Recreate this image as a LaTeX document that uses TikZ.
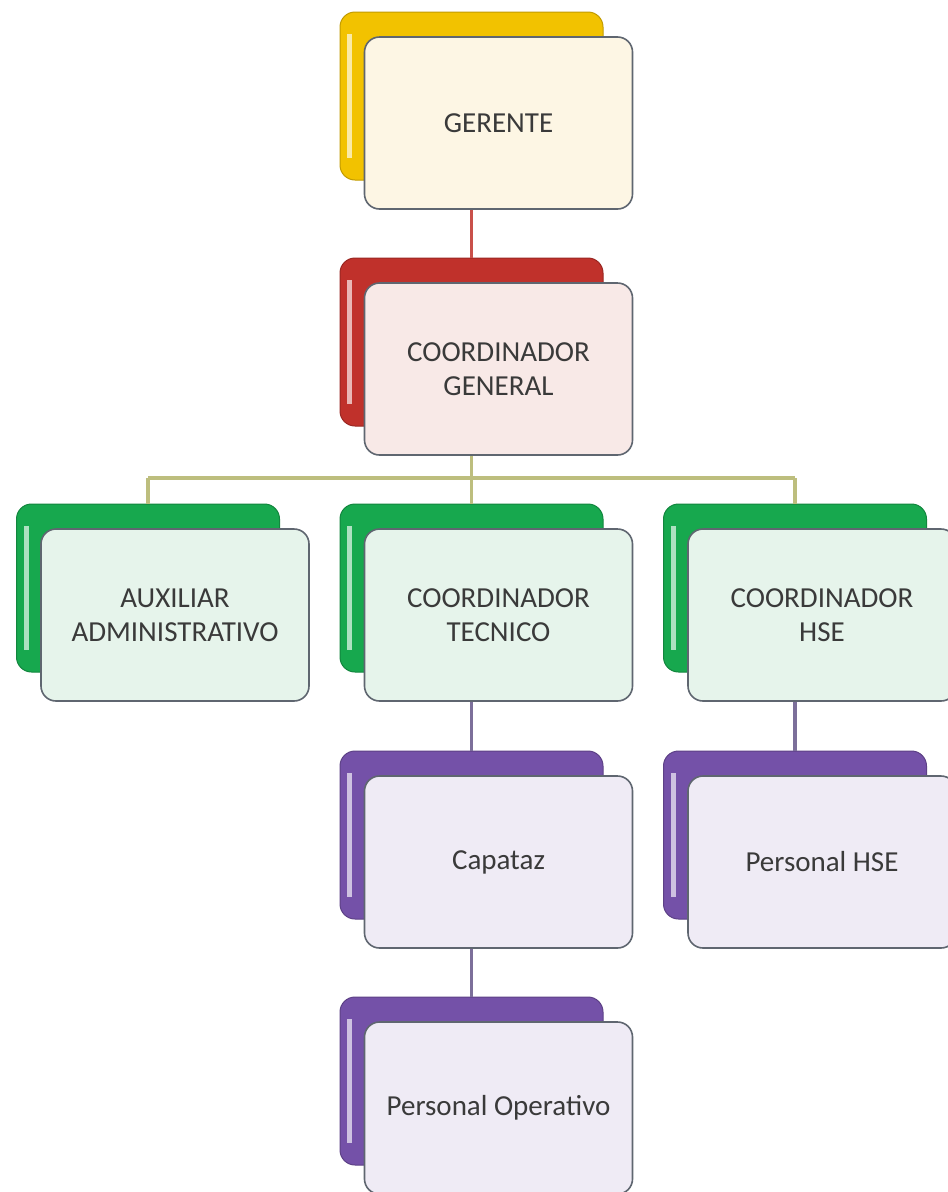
\documentclass[tikz,border=0pt]{standalone}
\usepackage{fontspec}
\setmainfont{Carlito}
\definecolor{ylwback}{HTML}{F2C200}
\definecolor{ylwfront}{HTML}{FDF6E4}
\definecolor{redback}{HTML}{C0312B}
\definecolor{redfront}{HTML}{F8E9E7}
\definecolor{grnback}{HTML}{17A84E}
\definecolor{grnfront}{HTML}{E6F4EB}
\definecolor{purback}{HTML}{7451A8}
\definecolor{purfront}{HTML}{EFEBF5}
\definecolor{boxline}{HTML}{5F6670}
\definecolor{txtgray}{HTML}{3A3A3A}
\definecolor{redlink}{HTML}{C9504A}
\definecolor{grnlink}{HTML}{BDBE7E}
\definecolor{purlink}{HTML}{7C6F9A}
\newcommand\boxfont{\fontsize{29}{34}\selectfont}

\tikzstyle{backbox}=[rounded corners=15pt,minimum width=263pt,minimum height=168pt,inner sep=0pt]
\tikzstyle{frontbox}=[draw=boxline,line width=1.6pt,rounded corners=15pt,minimum width=268pt,
                      minimum height=172pt,inner sep=0pt,align=center,font=\boxfont,text=txtgray]
\tikzstyle{link}=[draw,line width=3.5pt]

\begin{document}
\begin{tikzpicture}[x=1pt,y=-1pt]
\path[use as bounding box,fill=white] (0,0) rectangle (948,1192);
\foreach \pos/\name/\col/\txt in {{(471.5,96)/gerente/ylw/GERENTE},
                                  {(471.5,342)/coordgen/red/COORDINADOR\\GENERAL},
                                  {(148,588)/auxiliar/grn/AUXILIAR\\ADMINISTRATIVO},
                                  {(471.5,588)/coordtec/grn/COORDINADOR\\TECNICO},
                                  {(795,588)/coordhse/grn/COORDINADOR\\HSE},
                                  {(471.5,835)/capataz/pur/Capataz},
                                  {(795,835)/perhse/pur/Personal HSE},
                                  {(471.5,1081)/perop/pur/Personal Operativo}}{
  \node[backbox,fill=\col back,draw=\col back!80!black,line width=1pt,
        path picture={\fill[\col back!35!white,sharp corners]
          ([xshift=7pt,yshift=-22pt]path picture bounding box.north west) rectangle
          ([xshift=12pt,yshift=22pt]path picture bounding box.south west);}]
        (\name-back) at \pos {};
  \node[frontbox,fill=\col front] (\name) at ([shift={(27,27)}]\name-back.center) {\txt};
}
% connectors
\coordinate (bus) at (0,478);
\path[link,draw=redlink] (gerente-back |- gerente.south) -- (coordgen-back.north);
\path[link,draw=grnlink] (coordgen-back |- coordgen.south) -- (coordgen-back |- bus);
\path[link,draw=grnlink] (auxiliar-back |- bus) -- (coordhse-back |- bus);
\foreach \dest in {auxiliar,coordtec,coordhse}{
  \path[link,draw=grnlink] (\dest-back |- bus) -- (\dest-back.north);
}
\foreach \source/\dest in {coordtec/capataz, coordhse/perhse, capataz/perop}{
  \path[link,draw=purlink] (\source-back |- \source.south) -- (\dest-back.north);
}
\end{tikzpicture}
\end{document}
